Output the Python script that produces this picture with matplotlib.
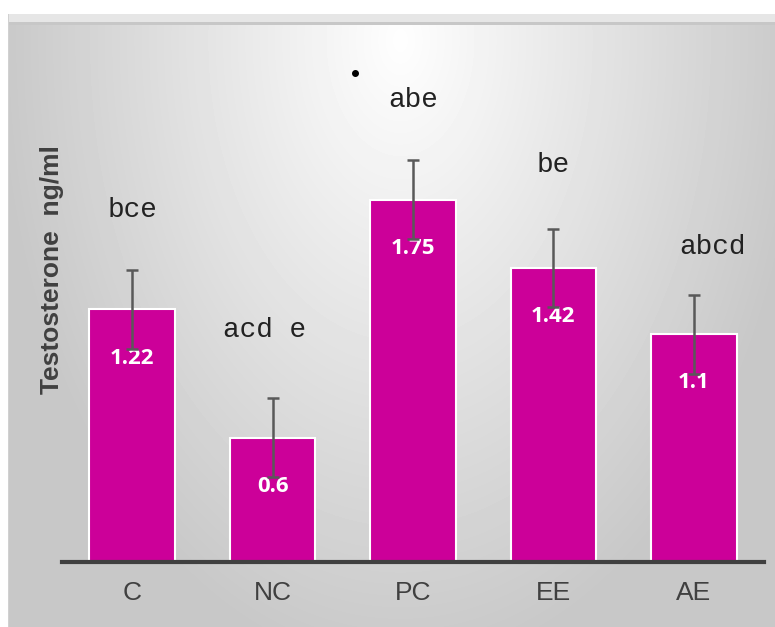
import matplotlib
matplotlib.use("Agg")
import matplotlib.pyplot as plt
import numpy as np

groups = ["C", "NC", "PC", "EE", "AE"]
testosterone = [1.22, 0.6, 1.75, 1.42, 1.1]
sem = [0.19, 0.19, 0.19, 0.19, 0.19]
value_labels = ["1.22", "0.6", "1.75", "1.42", "1.1"]
sig_letters = ["bce", "acd e", "abe", "be", "abcd"]
sig_heights = [1.70, 1.12, 2.23, 1.92, 1.52]
sig_shift = [0.0, -0.06, 0.0, 0.0, 0.13]
stray_dot = (1.59, 2.36)

BAR_COLOR = "#CC0099"
TEXT_GRAY = "#404040"

W, H = 775, 627
fig = plt.figure(figsize=(W / 100, H / 100), dpi=100)
fig.patch.set_facecolor("white")

# soft radial grey background panel
bg = fig.add_axes([0, 0, 1, 1], zorder=-5)
yy, xx = np.mgrid[0:H, 0:W]
r = np.sqrt(((xx - 400) / 460.0) ** 2 + ((yy - 40) / 720.0) ** 2)
shade = np.clip(254 - 62 * r, 200, 254) / 255.0
shade[:14, :] = 1.0
shade[14:22, 8:] = 0.90
shade[22:25, 8:] = 0.78
shade[:, :8] = 1.0
shade[14:, 8:9] = 0.82
bg.imshow(shade, cmap="gray", vmin=0, vmax=1, aspect="auto",
          extent=[0, W, H, 0], interpolation="bilinear")
bg.set_xlim(0, W)
bg.set_ylim(H, 0)
bg.axis("off")

ax = fig.add_axes([62 / W, 65 / H, 702 / W, 529 / H])
ax.patch.set_alpha(0)
x = np.arange(len(groups))
ax.bar(x, testosterone, 0.61, color=BAR_COLOR, edgecolor="white",
       linewidth=1.5, zorder=2)

for i, lbl in enumerate(value_labels):
    ax.annotate(lbl, (x[i], testosterone[i]), xytext=(0, -35),
                textcoords="offset points", ha="center", va="center",
                color="white", fontsize=16, fontweight="bold",
                family="Open Sans", zorder=3)

ax.errorbar(x, testosterone, yerr=sem, fmt="none", ecolor="#595959",
            elinewidth=1.8, capsize=4, capthick=1.8, zorder=4)

for i, s in enumerate(sig_letters):
    ax.text(x[i] + sig_shift[i], sig_heights[i], s, ha="center",
            va="center", fontsize=20, family="Liberation Mono",
            color="#222222")

ax.plot(*stray_dot, "o", color="black", markersize=4)

ax.set_xlim(-0.5, 4.5)
ax.set_ylim(0, 529 / 207)
ax.set_xticks(x)
ax.set_xticklabels(groups, fontsize=19, color=TEXT_GRAY,
                   family="Liberation Sans")
ax.tick_params(axis="x", length=0, pad=14)
ax.set_yticks([])
for side in ["top", "left", "right"]:
    ax.spines[side].set_visible(False)
ax.spines["bottom"].set_color(TEXT_GRAY)
ax.spines["bottom"].set_linewidth(3)

fig.text(52 / W, 1 - 270 / H, "Testosterone  ng/ml", rotation=90,
         ha="center", va="center", fontsize=19, fontweight="bold",
         color=TEXT_GRAY, family="Liberation Sans")

fig.savefig("out.png", dpi=100)
